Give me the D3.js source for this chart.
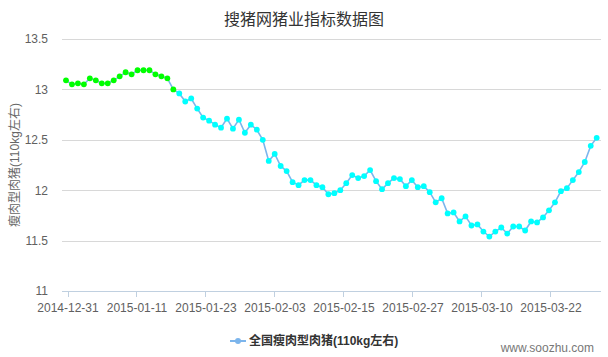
<!DOCTYPE html>
<html>
<head>
<meta charset="utf-8">
<script src="https://cdn.jsdelivr.net/npm/d3@7/dist/d3.min.js"></script>
<style>
  html, body { margin: 0; padding: 0; background: #fff; }
  svg { display: block; font-family: "Liberation Sans", Arial, "Noto Sans CJK SC", sans-serif; }
</style>
</head>
<body>
<svg id="chart" width="608" height="357"></svg>
<script>
// ---- data ----
const chartTitle = "搜猪网猪业指标数据图";
const seriesName = "全国瘦肉型肉猪(110kg左右)";
const yAxisTitle = "瘦肉型肉猪(110kg左右)";
const watermark = "www.soozhu.com";
const startDate = "2014-12-31";
const values = [
  13.09, 13.05, 13.06, 13.05, 13.11, 13.09, 13.06, 13.06, 13.09, 13.13,
  13.17, 13.15, 13.19, 13.19, 13.19, 13.15, 13.13, 13.11, 13.00, 12.96,
  12.88, 12.91, 12.81, 12.72, 12.69, 12.65, 12.62, 12.71, 12.61, 12.70,
  12.57, 12.65, 12.60, 12.50, 12.29, 12.36, 12.24, 12.19, 12.08, 12.05,
  12.10, 12.10, 12.05, 12.03, 11.96, 11.97, 12.00, 12.07, 12.15, 12.12,
  12.14, 12.20, 12.09, 12.01, 12.07, 12.12, 12.11, 12.04, 12.10, 12.03,
  12.04, 11.98, 11.88, 11.92, 11.77, 11.78, 11.69, 11.74, 11.65, 11.66,
  11.59, 11.54, 11.59, 11.63, 11.57, 11.64, 11.64, 11.60, 11.69, 11.68,
  11.73, 11.80, 11.88, 11.99, 12.02, 12.10, 12.18, 12.28, 12.44, 12.52
];
const greenPointCount = 19;   // first points are drawn with green markers
const yTicks = [11, 11.5, 12, 12.5, 13, 13.5];
const xTickLabels = ["2014-12-31", "2015-01-11", "2015-01-23", "2015-02-03",
                     "2015-02-15", "2015-02-27", "2015-03-10", "2015-03-22"];

// ---- layout ----
const plot = { left: 62, right: 601, top: 39, bottom: 291 };
const svg = d3.select("#chart");

const x = d3.scaleLinear().domain([0, values.length - 1]).range([66, 596.7]);
const y = d3.scaleLinear().domain([11, 13.5]).range([plot.bottom, plot.top]);

const parse = d3.timeParse("%Y-%m-%d");
const lastTickIdx = d3.timeDay.count(parse(startDate), parse(xTickLabels[xTickLabels.length - 1]));
const xTick = d3.scalePoint().domain(xTickLabels).range([x(0) + 1.5, x(lastTickIdx) + 1.5]);

// title
svg.append("text")
  .attr("x", 304).attr("y", 25)
  .attr("text-anchor", "middle")
  .attr("font-family", "'Noto Sans CJK SC', sans-serif")
  .attr("font-size", 16).attr("fill", "#333")
  .text(chartTitle);

// grid lines (y axis)
const yAxis = d3.axisLeft(y).tickValues(yTicks).tickSize(-(plot.right - plot.left)).tickPadding(14)
  .tickFormat(d3.format("~g"));
const gy = svg.append("g").attr("transform", `translate(${plot.left},0)`).call(yAxis);
gy.select(".domain").remove();
gy.selectAll(".tick line").attr("stroke", "#d8d8d8").attr("shape-rendering", "crispEdges");
gy.selectAll(".tick text").attr("fill", "#606060").attr("font-size", 12)
  .attr("font-family", "'Liberation Sans', Arial, sans-serif");

// x axis
const xAxis = d3.axisBottom(xTick).tickSize(6).tickPadding(6);
const gx = svg.append("g").attr("transform", `translate(0,${plot.bottom})`).call(xAxis);
gx.select(".domain").remove();
gx.append("line").attr("x1", plot.left).attr("x2", plot.right).attr("y1", 0).attr("y2", 0)
  .attr("stroke", "#c0d0e0").attr("shape-rendering", "crispEdges");
gx.selectAll(".tick line").attr("stroke", "#c0d0e0").attr("shape-rendering", "crispEdges");
gx.selectAll(".tick text").attr("fill", "#606060").attr("font-size", 12)
  .attr("font-family", "'Liberation Sans', Arial, sans-serif");

// y axis title
svg.append("text")
  .attr("transform", `translate(19,${(plot.top + plot.bottom) / 2}) rotate(-90)`)
  .attr("text-anchor", "middle")
  .attr("font-size", 12).attr("fill", "#666")
  .attr("font-family", "'Liberation Sans', 'Noto Sans CJK SC', sans-serif")
  .text(yAxisTitle);

// line
const line = d3.line().x((d, i) => x(i)).y(d => y(d));
svg.append("path").datum(values)
  .attr("d", line).attr("fill", "none")
  .attr("stroke", "#7cb5ec").attr("stroke-width", 1.6);

// markers
svg.append("g").selectAll("circle").data(values).join("circle")
  .attr("cx", (d, i) => x(i)).attr("cy", d => y(d)).attr("r", 2.9)
  .attr("fill", (d, i) => i < greenPointCount ? "#00ff00" : "#00ffff");

// legend
const lg = svg.append("g");
lg.append("line").attr("x1", 230).attr("x2", 246).attr("y1", 341).attr("y2", 341)
  .attr("stroke", "#7cb5ec").attr("stroke-width", 2);
lg.append("circle").attr("cx", 238).attr("cy", 341).attr("r", 3).attr("fill", "#7cb5ec");
lg.append("text").attr("x", 249).attr("y", 345)
  .attr("font-size", 12).attr("font-weight", "bold").attr("fill", "#333")
  .attr("font-family", "'Liberation Sans', 'Noto Sans CJK SC', sans-serif")
  .text(seriesName);

// watermark
svg.append("text").attr("x", 594).attr("y", 352).attr("text-anchor", "end")
  .attr("font-size", 12).attr("fill", "#777")
  .attr("font-family", "'Liberation Sans', Arial, sans-serif")
  .text(watermark);
</script>
</body>
</html>
